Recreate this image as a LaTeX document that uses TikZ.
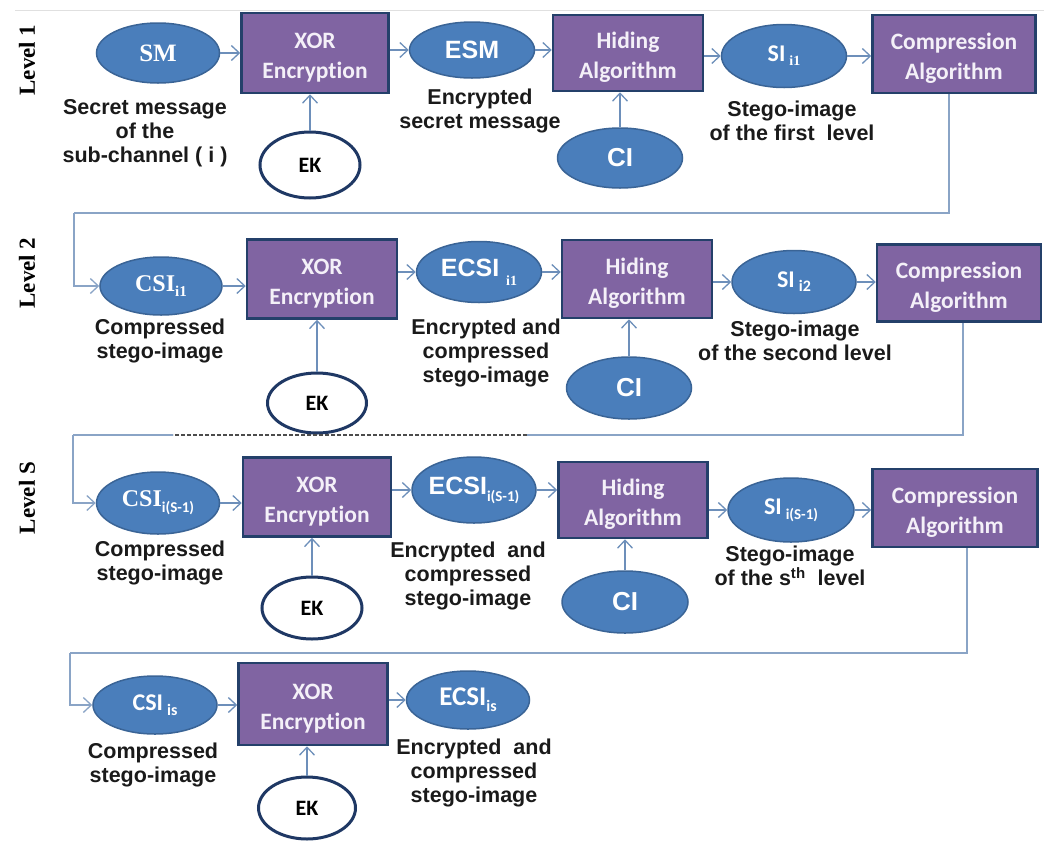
\documentclass[tikz,border=0pt]{standalone}
\usepackage{fontspec}
\setmainfont{Liberation Sans}
\newfontfamily\arfont{Liberation Sans}
\newfontfamily\tmfont{Liberation Serif}
\newfontfamily\calfont{Carlito}[Ligatures=NoCommon]
\usetikzlibrary{shapes.geometric,arrows.meta}

\definecolor{ellfill}{HTML}{4A7EBB}
\definecolor{elldraw}{HTML}{3A6496}
\definecolor{boxfill}{HTML}{8064A2}
\definecolor{boxdraw}{HTML}{24406A}
\definecolor{ekdraw}{HTML}{1F3864}
\definecolor{arrcol}{HTML}{6D8FBA}
\definecolor{linkcol}{HTML}{8AA4C6}
\definecolor{labcol}{HTML}{1A1A1A}
\definecolor{boxtext}{HTML}{F4F0F8}

% zero-width wrapper so that the ellipse size is set only by its minimum size
\newcommand{\zw}[1]{\makebox[0pt]{#1}}
% lowered index text
\newcommand{\idx}[3]{\raisebox{#1}{\fontsize{#2}{#2}\selectfont #3}}
% two-line box caption, with a strut that sets the first line a little lower
\newcommand{\twolines}[2]{\rule{0pt}{24pt}#1\\#2}

\tikzset{
  ell/.style args={#1/#2}{ellipse, fill=ellfill, draw=elldraw, line width=1.5pt,
    minimum width=#1pt, minimum height=#2pt, inner sep=0pt, text=white},
  keyell/.style args={#1/#2}{ellipse, fill=white, draw=ekdraw, line width=3pt,
    minimum width=#1pt, minimum height=#2pt, inner sep=0pt, text=black,
    font=\calfont\bfseries\fontsize{22}{22}\selectfont},
  blk/.style args={#1/#2}{rectangle, fill=boxfill, draw=boxdraw, line width=2.5pt,
    minimum width=#1pt, minimum height=#2pt, inner sep=0pt, text=boxtext, align=center,
    font=\calfont\bfseries\fontsize{23.5}{30}\selectfont},
  lab/.style={align=center, text=labcol, inner sep=0pt,
    font=\arfont\bfseries\fontsize{21.5}{24}\selectfont},
  lvl/.style={rotate=90, inner sep=0pt, text=black,
    font=\tmfont\bfseries\fontsize{23}{23}\selectfont},
  arr/.style={draw=arrcol, line width=1.3pt, -{Straight Barb[length=8pt,width=15pt]}},
  link/.style={draw=linkcol, line width=1.3pt},
  gap/.style={draw=black!70, line width=1.1pt, dash pattern=on 4pt off 2pt},
}

\begin{document}
\begin{tikzpicture}[x=1pt,y=-1pt]
\useasboundingbox (0,0) rectangle (1044,841);

% thin rule along the top
\coordinate (r0) at (15,10);
\coordinate (r1) at (1044,10);
\draw[draw=black!12, line width=0.8pt] (r0) -- (r1);

% level captions
\node[lvl] (lv1) at (27,60) {Level 1};
\node[lvl] (lv2) at (27,273) {Level 2};
\node[lvl] (lvs) at (27,498) {Level S};

% ---------------- Level 1 ----------------
\node[ell=123/60, font=\tmfont\bfseries\fontsize{25}{25}\selectfont] (sm) at (158,53) {\zw{SM}};
\node[blk=147/80] (xor1) at (315,53) {\twolines{XOR}{Encryption}};
\node[keyell=100/66] (ek1) at (310,165) {EK};
\node[ell=125/56, font=\arfont\bfseries\fontsize{25}{25}\selectfont] (esm) at (472,50) {\zw{ESM}};
\node[blk=150/76] (hid1) at (628,53) {\twolines{Hiding}{Algorithm}};
\node[ell=125/60, font=\arfont\bfseries\fontsize{26}{26}\selectfont] (ci1) at (620,158) {\zw{CI}};
\node[ell=125/63, font=\calfont\bfseries\fontsize{24}{24}\selectfont] (si1) at (784,56)
  {\zw{SI\,\idx{-4pt}{14}{\tmfont\bfseries i1}}};
\node[blk=163/78] (comp1) at (954,54) {\twolines{Compression}{Algorithm}};

\node[lab] (tsm) at (145,133) {Secret message\\of the\\sub-channel ( i )};
\node[lab] (tesm) at (480,111) {Encrypted\\secret message};
\node[lab] (tsi1) at (792,121) {Stego-image\\of the first\ \ level};

\draw[arr] (sm.east) -- (sm.east -| xor1.west);
\draw[arr] (xor1.east |- esm.west) -- (esm.west);
\draw[arr] (esm.east) -- (esm.east -| hid1.west);
\draw[arr] (hid1.east |- si1.west) -- (si1.west);
\draw[arr] (si1.east) -- (si1.east -| comp1.west);
\draw[arr] (ek1.north) -- (ek1.north |- xor1.south);
\draw[arr] (ci1.north) -- (ci1.north |- hid1.south);

% ---------------- Level 2 ----------------
\node[ell=122/58, font=\tmfont\bfseries\fontsize{24}{24}\selectfont] (csi1) at (161,286)
  {\zw{CSI\idx{-5pt}{15}{i1}}};
\node[blk=150/79] (xor2) at (322,279) {\twolines{XOR}{Encryption}};
\node[keyell=99/60] (ek2) at (317,403) {EK};
\node[ell=125/61, font=\arfont\bfseries\fontsize{25}{25}\selectfont] (ecsi1) at (479,272)
  {\zw{ECSI\ \idx{-9pt}{14}{\tmfont\bfseries i1}}};
\node[blk=150/78] (hid2) at (637,279) {\twolines{Hiding}{Algorithm}};
\node[ell=125/62, font=\arfont\bfseries\fontsize{26}{26}\selectfont] (ci2) at (629,388) {\zw{CI}};
\node[ell=124/63, font=\calfont\bfseries\fontsize{24}{24}\selectfont] (si2) at (794,282)
  {\zw{SI\,\idx{-4pt}{16}{i2}}};
\node[blk=164/77] (comp2) at (959,283) {\twolines{Compression}{Algorithm}};

\node[lab] (tcsi1) at (160,341) {Compressed\\stego-image};
\node[lab] (tecsi1) at (486,353) {Encrypted and\\compressed\\stego-image};
\node[lab] (tsi2) at (795,341) {Stego-image\\of the second level};

\draw[arr] (csi1.east) -- (csi1.east -| xor2.west);
\draw[arr] (xor2.east |- ecsi1.west) -- (ecsi1.west);
\draw[arr] (ecsi1.east) -- (ecsi1.east -| hid2.west);
\draw[arr] (hid2.east |- si2.west) -- (si2.west);
\draw[arr] (si2.east) -- (si2.east -| comp2.west);
\draw[arr] (ek2.north) -- (ek2.north |- xor2.south);
\draw[arr] (ci2.north) -- (ci2.north |- hid2.south);

% ---------------- Level S ----------------
\node[ell=123/62, font=\tmfont\bfseries\fontsize{24}{24}\selectfont] (csi2) at (158,503)
  {\zw{CSI\idx{-6pt}{15}{\calfont\bfseries i(S-1)}}};
\node[blk=148/79] (xor3) at (317,497) {\twolines{XOR}{Encryption}};
\node[keyell=100/62] (ek3) at (312,608) {EK};
\node[ell=124/66, font=\arfont\bfseries\fontsize{25}{25}\selectfont] (ecsi2) at (474,490)
  {\zw{ECSI\idx{-7pt}{15}{\calfont\bfseries i(S-1)}}};
\node[blk=149/76] (hid3) at (633,500) {\twolines{Hiding}{Algorithm}};
\node[ell=126/62, font=\arfont\bfseries\fontsize{26}{26}\selectfont] (ci3) at (625,602) {\zw{CI}};
\node[ell=126/64, font=\calfont\bfseries\fontsize{24}{24}\selectfont] (si3) at (791,510)
  {\zw{SI\,\idx{-5pt}{15}{i(S-1)}}};
\node[blk=165/78] (comp3) at (955,508) {\twolines{Compression}{Algorithm}};

\node[lab] (tcsi2) at (160,563) {Compressed\\stego-image};
\node[lab] (tecsi2) at (468,576) {Encrypted\ \ and\\compressed\\stego-image};
\node[lab] (tsi3) at (790,566) {Stego-image\\of the s\textsuperscript{th}\ \ level};

\draw[arr] (csi2.east) -- (csi2.east -| xor3.west);
\draw[arr] (xor3.east |- ecsi2.west) -- (ecsi2.west);
\draw[arr] (ecsi2.east) -- (ecsi2.east -| hid3.west);
\draw[arr] (hid3.east |- si3.west) -- (si3.west);
\draw[arr] (si3.east) -- (si3.east -| comp3.west);
\draw[arr] (ek3.north) -- (ek3.north |- xor3.south);
\draw[arr] (ci3.north) -- (ci3.north |- hid3.south);

% ---------------- final encryption ----------------
\node[ell=124/58, font=\calfont\bfseries\fontsize{24}{24}\selectfont] (csi3) at (155,705)
  {\zw{CSI\,\idx{-5pt}{16}{is}}};
\node[blk=149/82] (xor4) at (313,704) {\twolines{XOR}{Encryption}};
\node[keyell=97/62] (ek4) at (307,808) {EK};
\node[ell=123/58, font=\calfont\bfseries\fontsize{27}{27}\selectfont] (ecsi3) at (468,700)
  {\zw{ECSI\idx{-6pt}{16}{is}}};

\node[lab] (tcsi3) at (153,765) {Compressed\\stego-image};
\node[lab] (tecsi3) at (474,773) {Encrypted\ \ and\\compressed\\stego-image};

\draw[arr] (csi3.east) -- (csi3.east -| xor4.west);
\draw[arr] (xor4.east |- ecsi3.west) -- (ecsi3.west);
\draw[arr] (ek4.north) -- (ek4.north |- xor4.south);

% ---------------- links between levels ----------------
\coordinate (k1) at (74,213);
\draw[link] ([xshift=-5pt]comp1.south) |- (k1);
\draw[link,arr,draw=linkcol] (k1) |- (csi1.west);

\coordinate (d2) at (527,435);
\coordinate (d1) at (173,435);
\coordinate (k2) at (73,435);
\draw[link] ([xshift=4pt]comp2.south) |- (d2);
\draw[gap] (d2) -- (d1);
\draw[link] (d1) -- (k2);
\draw[link,arr,draw=linkcol] (k2) |- (csi2.west);

\coordinate (k3) at (70,653);
\draw[link] ([xshift=12pt]comp3.south) |- (k3);
\draw[link,arr,draw=linkcol] (k3) |- (csi3.west);
\end{tikzpicture}
\end{document}
